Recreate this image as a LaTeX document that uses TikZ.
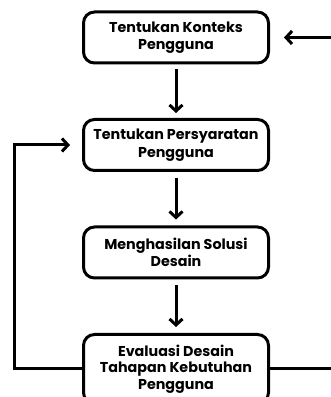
\documentclass[tikz,border=0pt]{standalone}
\usepackage{fontspec}
\setmainfont{Poppins}
\usetikzlibrary{arrows.meta,positioning}
\tikzset{
  stage/.style={draw,line width=3pt,rounded corners=11pt,align=center,
                minimum width=185pt,minimum height=51pt,inner sep=1pt,
                font=\bfseries\fontsize{14.3}{17.5}\selectfont},
  flow/.style ={-{Straight Barb[length=6pt,width=13pt]},line width=3pt},
}
\begin{document}
\begin{tikzpicture}[node distance=53.5pt]
\useasboundingbox (0,0) rectangle (330pt,397pt);
\node[stage] (ctx) at (176pt,359.5pt) {Tentukan Konteks\\Pengguna};
\node[stage,below=of ctx] (req) {Tentukan Persyaratan\\Pengguna};
\node[stage,below=of req] (sol) {Menghasilan Solusi\\Desain};
\node[stage,below=of sol,minimum height=69pt,
      font=\bfseries\fontsize{14.3}{16.5}\selectfont] (eval) {Evaluasi Desain\\Tahapan Kebutuhan\\Pengguna};
\draw[flow,shorten <=5pt,shorten >=5pt] (ctx) -- (req);
\draw[flow,shorten <=6pt,shorten >=6pt] (req) -- (sol);
\draw[flow,shorten <=6pt,shorten >=6pt] (sol) -- (eval);
% back loops
\draw[flow,shorten >=12pt] (eval.west) -- ++(-68pt,0) |- (req.west);
\draw[flow,shorten >=14pt] (eval.east) -- ++(80pt,0) |- (ctx.east);
\end{tikzpicture}
\end{document}
